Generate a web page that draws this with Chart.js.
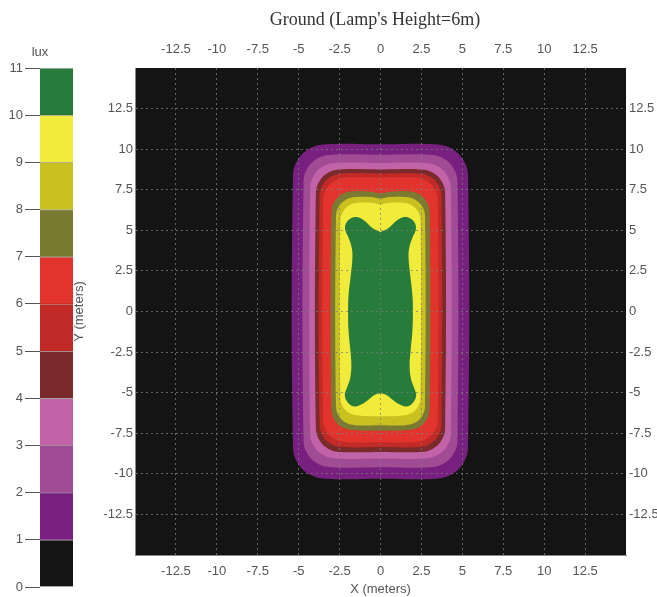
<!DOCTYPE html>
<html>
<head>
<meta charset="utf-8">
<script src="https://cdn.jsdelivr.net/npm/chart.js@4.4.1/dist/chart.umd.min.js"></script>
<style>
  html, body { margin: 0; padding: 0; background: #fff; }
  #wrap { position: relative; width: 657px; height: 597px; }
  #main, #bar { position: absolute; top: 0; left: 0; height: 597px; }
  #main { width: 657px; }
  #bar { width: 80px; }
</style>
</head>
<body>
<div id="wrap">
  <div id="main"><canvas id="mapChart"></canvas></div>
  <div id="bar"><canvas id="luxChart"></canvas></div>
</div>
<script>
const TITLE = "Ground (Lamp's Height=6m)";
const axisTicks = [-12.5, -10, -7.5, -5, -2.5, 0, 2.5, 5, 7.5, 10, 12.5];
const luxTicks = [0, 1, 2, 3, 4, 5, 6, 7, 8, 9, 10, 11];
const luxColors = ['#141414', '#78207f', '#a04c95', '#c262a8', '#7a2a2a', '#c12a26',
                   '#e2342c', '#7b7a33', '#c9c11f', '#f1eb3c', '#277b3b'];

// right half of each iso-lux outline (meters), top centre -> bottom centre
const level1 = [[0,10.3],[3.35,10.3],[4.35,10.03],[5.08,9.3],[5.35,8.3],[5.35,-8.3],[5.08,-9.3],[4.35,-10.03],[3.35,-10.3],[0,-10.3]];
const level2 = [[0,9.65],[3.0,9.65],[3.85,9.42],[4.47,8.8],[4.7,7.95],[4.7,-7.9],[4.47,-8.75],[3.85,-9.37],[3.0,-9.6],[0,-9.6]];
const level3 = [[0,9.15],[2.7,9.15],[3.5,8.94],[4.09,8.35],[4.3,7.55],[4.3,-7.45],[4.09,-8.25],[3.5,-8.84],[2.7,-9.05],[0,-9.05]];
const level4 = [[0,8.75],[2.45,8.75],[3.2,8.55],[3.75,8.0],[3.95,7.25],[3.95,-7.15],[3.75,-7.9],[3.2,-8.45],[2.45,-8.65],[0,-8.65]];
const level5 = [[0,8.5],[2.32,8.5],[3.02,8.31],[3.53,7.8],[3.72,7.1],[3.72,-6.95],[3.53,-7.65],[3.02,-8.16],[2.32,-8.35],[0,-8.35]];
const level6 = [[0,8.25],[2.1,8.25],[2.8,8.06],[3.31,7.55],[3.5,6.85],[3.5,-6.65],[3.31,-7.35],[2.8,-7.86],[2.1,-8.05],[0,-8.05]];
const level7 = [[0,7.28],[0.6,7.38],[1.7,7.4],[2.35,7.23],[2.83,6.75],[3.0,6.1],[3.0,-6.0],[2.83,-6.65],[2.35,-7.13],[1.7,-7.3],[0,-7.35]];
const level8 = [[0,6.95],[0.6,7.05],[1.52,7.05],[2.12,6.89],[2.56,6.45],[2.72,5.85],[2.72,-5.8],[2.56,-6.4],[2.12,-6.84],[1.52,-7.0],[0,-7.0]];
const level9 = [[0,6.6],[0.6,6.7],[1.35,6.7],[1.9,6.55],[2.3,6.15],[2.45,5.6],[2.45,-5.3],[2.3,-5.85],[1.9,-6.25],[1.35,-6.4],[0,-6.45]];
const level10 = [[0,4.9],[0.5,5.15],[1.0,5.6],[1.45,5.82],[1.85,5.72],[2.12,5.4],[2.15,5.0],[1.95,4.55],[1.75,3.9],[1.72,3.2],
                 [1.82,2.2],[1.95,1.0],[1.98,0],[1.95,-1.2],[1.85,-2.3],[1.78,-3.3],[1.85,-4.1],[2.05,-4.7],[2.18,-5.15],
                 [2.0,-5.6],[1.6,-5.85],[1.15,-5.72],[0.7,-5.4],[0.3,-5.12],[0,-5.05]];
const levels = [level1, level2, level3, level4, level5, level6, level7, level8, level9, level10];

// close the outline with its mirrored left half
const outline = half => half.concat(half.slice(0, -1).reverse().map(([x, y]) => [-x, y]))
  .map(([x, y]) => ({ x, y }));

const textColor = '#555';
const tickFont = { family: 'Liberation Sans, Arial, sans-serif', size: 13 };
const gridColor = 'rgba(125,125,125,0.75)';
const fixedTicks = scale => { scale.ticks = axisTicks.map(v => ({ value: v })); };

// border drawn after the grid (z 2) so its position is already known
const axis = (position, size, extra = {}) => ({
  type: 'linear', position, min: -15, max: 15,
  afterBuildTicks: fixedTicks,
  afterFit: s => { if (s.isHorizontal()) s.height = size; else s.width = size; },
  grid: { color: gridColor, z: 1, drawTicks: false, ...(extra.grid || {}) },
  border: { color: '#8a8a8a', dash: [2, 3], z: 2, ...(extra.border || {}) },
  ticks: { color: textColor, font: tickFont, maxRotation: 0, autoSkip: false, callback: v => String(v), ...(extra.ticks || {}) },
  title: extra.title || { display: false },
});

const areaBg = {
  id: 'areaBg',
  beforeDraw(chart) {
    const { ctx, chartArea: a } = chart;
    ctx.save();
    ctx.fillStyle = luxColors[0];
    ctx.fillRect(a.left, a.top, a.right - a.left, a.bottom - a.top);
    ctx.restore();
  },
  afterDraw(chart) {
    const { ctx } = chart;
    ctx.save();
    ctx.fillStyle = '#333';
    ctx.font = '18px "Liberation Serif", "Times New Roman", serif';
    ctx.textAlign = 'center';
    ctx.textBaseline = 'middle';
    ctx.fillText(TITLE, 375, 20);
    ctx.restore();
  },
};

new Chart(document.getElementById('mapChart'), {
  type: 'scatter',
  data: {
    datasets: levels.map((pts, i) => ({
      label: `${i + 1} lux`,
      data: outline(pts),
      showLine: true,
      fill: 'shape',
      backgroundColor: luxColors[i + 1],
      borderWidth: 0,
      pointRadius: 0,
      tension: 0.4,
      order: levels.length - i,
    })),
  },
  options: {
    responsive: true, maintainAspectRatio: false, animation: false, events: [],
    layout: { padding: { left: 72, right: 0, top: 0, bottom: 0 } },
    plugins: { legend: { display: false }, tooltip: { enabled: false } },
    scales: {
      x: axis('bottom', 42, {
        ticks: { padding: 9 },
        title: { display: true, text: 'X (meters)', color: textColor, font: tickFont, padding: 0 },
      }),
      x2: axis('top', 68, { grid: { display: false }, border: { display: false }, ticks: { padding: 11 } }),
      y: axis('left', 63, {
        ticks: { padding: 2 },
        title: { display: true, text: 'Y (meters)', color: textColor, font: tickFont, padding: 0 },
      }),
      y2: axis('right', 31, { grid: { display: false }, border: { display: false }, ticks: { padding: 3 } }),
    },
  },
  plugins: [areaBg],
});

// colour bar
const luxLabel = {
  id: 'luxLabel',
  afterDraw(chart) {
    const { ctx } = chart;
    ctx.save();
    ctx.fillStyle = textColor;
    ctx.font = '13px "Liberation Sans", Arial, sans-serif';
    ctx.textAlign = 'center';
    ctx.textBaseline = 'middle';
    ctx.fillText('lux', 40, 52);
    ctx.restore();
  },
};

new Chart(document.getElementById('luxChart'), {
  type: 'bar',
  data: {
    labels: ['lux'],
    datasets: luxColors.map((c, i) => ({
      label: `${i}-${i + 1}`, data: [1], backgroundColor: c,
      barPercentage: 1, categoryPercentage: 1,
      borderColor: 'rgba(0,0,0,0.3)', borderWidth: { top: 1, bottom: 0, left: 0, right: 0 }, borderSkipped: false,
    })),
  },
  options: {
    responsive: true, maintainAspectRatio: false, animation: false, events: [],
    layout: { padding: { left: 0, right: 7, top: 68, bottom: 10 } },
    plugins: { legend: { display: false }, tooltip: { enabled: false } },
    scales: {
      x: { stacked: true, display: false },
      y: {
        stacked: true, min: 0, max: 11,
        afterBuildTicks: s => { s.ticks = luxTicks.map(v => ({ value: v })); },
        afterFit: s => { s.width = 40; },
        grid: { drawOnChartArea: false, drawTicks: true, tickLength: 15, tickColor: '#555' },
        border: { display: false },
        ticks: { color: textColor, font: tickFont, padding: 2 },
      },
    },
  },
  plugins: [luxLabel],
});
</script>
</body>
</html>
